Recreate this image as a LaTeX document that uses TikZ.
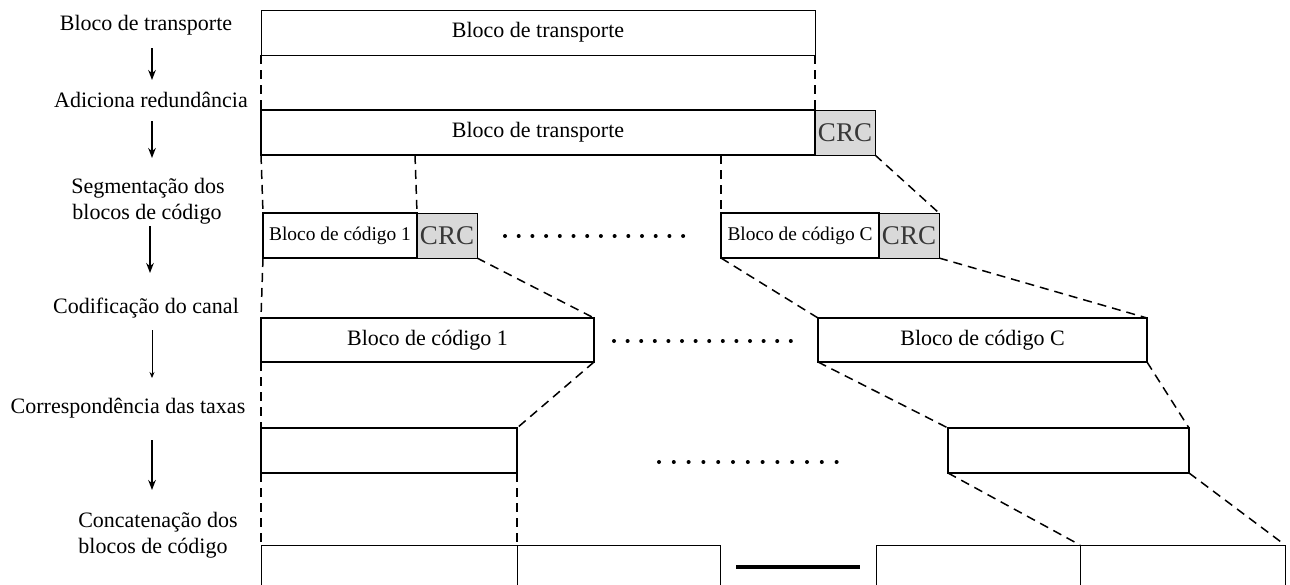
\documentclass[tikz,border=0pt]{standalone}
\usepackage{fontspec}
\setmainfont{Liberation Serif}
\usetikzlibrary{arrows.meta}
\definecolor{crcgray}{RGB}{217,217,217}
\definecolor{crctext}{RGB}{55,55,55}
\begin{document}
\begin{tikzpicture}[x=0.5pt,y=-0.5pt,
  thinbox/.style={draw,line width=0.5pt,minimum height=22.5pt,inner sep=0pt,outer sep=0pt,font=\fontsize{11}{13}\selectfont},
  thickbox/.style={thinbox,line width=1.2pt},
  crcbox/.style={draw,line width=0.5pt,fill=crcgray,minimum width=30pt,minimum height=22.5pt,inner sep=0pt,outer sep=0pt,text=crctext,font=\fontsize{13.5}{15}\selectfont},
  lbl/.style={anchor=base,font=\fontsize{11}{13}\selectfont,inner sep=0pt},
  dsh/.style={line width=0.75pt,dash pattern=on 4.5pt off 3pt},
  arr/.style={line width=0.8pt,-{Stealth[length=5pt,width=3.8pt]}},
  thinarr/.style={line width=0.4pt,-{Stealth[length=3pt,width=2.5pt]}},
]
\useasboundingbox (0,0) rectangle (1290,584);
\clip (0,0) rectangle (1290,584);

% left labels
\node[lbl] (L1) at (146,30) {Bloco de transporte};
\node[lbl] (L2) at (151,107) {Adiciona redundância};
\node[lbl] (L3a) at (148,193) {Segmentação dos};
\node[lbl] (L3b) at (147,219) {blocos de código};
\node[lbl] (L4) at (146,313) {Codificação do canal};
\node[lbl] (L5) at (128,413) {Correspondência das taxas};
\node[lbl] (L6a) at (158,527) {Concatenação dos};
\node[lbl] (L6b) at (153,553) {blocos de código};

% left arrows
\coordinate (a1s) at (152,48);  \coordinate (a1e) at (152,80);
\coordinate (a2s) at (152,121); \coordinate (a2e) at (152,158);
\coordinate (a3s) at (150,226); \coordinate (a3e) at (150,273);
\coordinate (a4s) at (152,330); \coordinate (a4e) at (152,378);
\coordinate (a5s) at (152,440); \coordinate (a5e) at (152,490);
\draw[arr] (a1s) -- (a1e);
\draw[arr] (a2s) -- (a2e);
\draw[arr] (a3s) -- (a3e);
\draw[thinarr] (a4s) -- (a4e);
\draw[arr] (a5s) -- (a5e);

% row 1
\node[thinbox,minimum width=277pt] (r1) at (538,32.5) {Bloco de transporte};
% row 2
\node[thickbox,minimum width=277pt] (r2) at (538,132.5) {Bloco de transporte};
\node[crcbox] (crc2) at (845,132.5) {CRC};
% row 3
\node[thickbox,minimum width=77pt,font=\fontsize{9.7}{11}\selectfont] (b1) at (340,235.5) {Bloco de código 1};
\node[crcbox] (crc1) at (447,235.5) {CRC};
\node[thickbox,minimum width=79pt,font=\fontsize{9.7}{11}\selectfont] (bC) at (800,235.5) {Bloco de código C};
\node[crcbox] (crcC) at (909,235.5) {CRC};
% row 4
\node[thickbox,minimum width=166.5pt,minimum height=22pt] (c1) at (427.5,340) {Bloco de código 1};
\node[thickbox,minimum width=164.5pt,minimum height=22pt] (cC) at (982.5,340) {Bloco de código C};
% row 5
\node[thickbox,minimum width=128pt] (d1) at (389,450.5) {};
\node[thickbox,minimum width=120.5pt] (dC) at (1068.5,450.5) {};
% row 6
\node[thinbox,minimum width=128pt,minimum height=27.5pt] (e1) at (389,572.5) {};
\node[thinbox,minimum width=101.5pt,minimum height=27.5pt] (e2) at (618.5,572.5) {};
\node[thinbox,minimum width=102pt,minimum height=27.5pt] (e3) at (978,572.5) {};
\node[thinbox,minimum width=102.5pt,minimum height=27.5pt] (e4) at (1182.5,572.5) {};
\coordinate (barL) at (736,567);
\coordinate (barR) at (860,567);
\draw[line width=2pt] (barL) -- (barR);

% dotted rows
\foreach \i in {0,...,13} {\fill (505+13.7*\i,236) circle (1pt);}
\foreach \i in {0,...,13} {\fill (614+13.6*\i,341) circle (1pt);}
\foreach \i in {0,...,12} {\fill (659+14.8*\i,462) circle (1pt);}

% dashed connectors
\draw[dsh] (r1.south west) -- (r2.north west);
\draw[dsh] (r1.south east) -- (r2.north east);
\draw[dsh] (r2.south west) -- (b1.north west);
\draw[dsh] ([xshift=-1pt]b1.north east |- r2.south) -- (b1.north east);
\draw[dsh] (bC.north west |- r2.south) -- (bC.north west);
\draw[dsh] (crc2.south east) -- (crcC.north east);
\draw[dsh] (b1.south west) -- (c1.north west);
\draw[dsh] (crc1.south east) -- (c1.north east);
\draw[dsh] (bC.south west) -- (cC.north west);
\draw[dsh] (crcC.south east) -- (cC.north east);
\draw[dsh] (c1.south west) -- (d1.north west);
\draw[dsh] (c1.south east) -- (d1.north east);
\draw[dsh] (cC.south west) -- (dC.north west);
\draw[dsh] (cC.south east) -- (dC.north east);
\draw[dsh] (d1.south west) -- (e1.north west);
\draw[dsh] (d1.south east) -- (e1.north east);
\draw[dsh] (dC.south west) -- (e4.north west);
\draw[dsh] (dC.south east) -- (e4.north east);
\end{tikzpicture}
\end{document}
